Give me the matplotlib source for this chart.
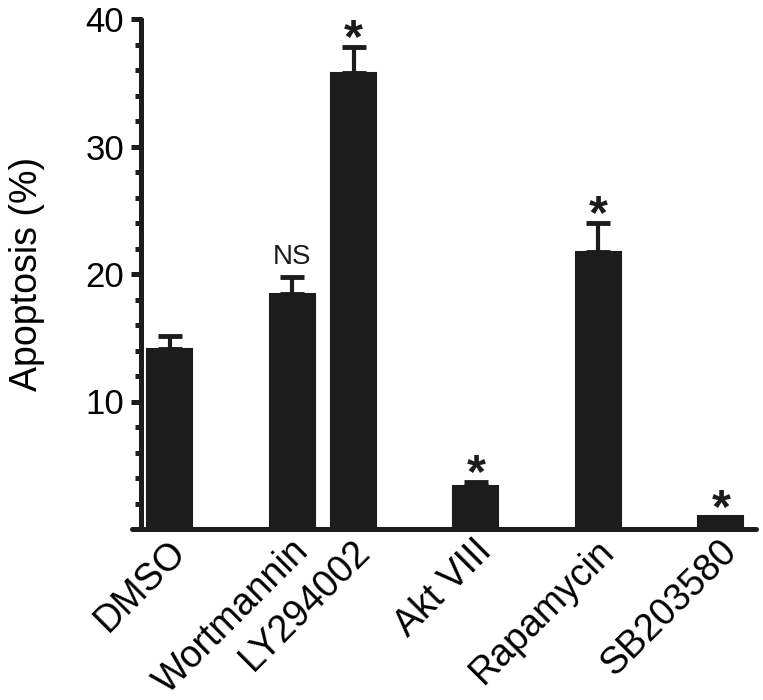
import matplotlib
matplotlib.use("Agg")
import matplotlib.pyplot as plt
import matplotlib.transforms as mtransforms
from matplotlib.ticker import MultipleLocator

categories = ["DMSO", "Wortmannin", "LY294002", "Akt VIII", "Rapamycin", "SB203580"]
positions = [0, 2, 3, 5, 7, 9]
values = [14.1, 18.4, 35.8, 3.4, 21.7, 1.0]
errors = [1.0, 1.4, 2.0, 0.3, 2.3, 0.0]
annotations = ["", "NS", "*", "*", "*", "*"]

plt.rcParams['font.family'] = ['Liberation Sans', 'DejaVu Sans']
dark = '#1c1c1c'

fig = plt.figure(figsize=(7.63, 7.0), dpi=100)
W, H = 763, 700
left_px, right_px, bottom_px, top_px = 132, 756, 529, 19
ax = fig.add_axes([left_px / W, 1 - bottom_px / H, (right_px - left_px) / W, (bottom_px - top_px) / H])

ax.bar(positions, values, width=0.735, color=dark, edgecolor=dark, linewidth=1.5, zorder=2)
for p, v, e in zip(positions, values, errors):
    if e > 0:
        ax.errorbar([p], [v], yerr=[[0], [e]], fmt='none', ecolor=dark,
                    elinewidth=3.0, capsize=8.5, capthick=3.5, zorder=3)

for p, v, e, a in zip(positions, values, errors, annotations):
    if a == "NS":
        ax.text(p, v + e + 0.5, a, ha='center', va='bottom', fontsize=20, color=dark)
    elif a == "*":
        ax.text(p, v + e - 1.2, a, ha='center', va='bottom', fontsize=35, fontweight='bold', color=dark)

ax.set_xlim(-0.62, 9.575)
ax.set_ylim(0, 40)

for s in ['top', 'right']:
    ax.spines[s].set_visible(False)
ax.spines['left'].set_position(('axes', 9 / (right_px - left_px)))
for s in ['left', 'bottom']:
    ax.spines[s].set_linewidth(3.6)
    ax.spines[s].set_color(dark)
    ax.spines[s].set_capstyle('round')

ax.yaxis.set_minor_locator(MultipleLocator(2))
ax.set_yticks([10, 20, 30, 40])
ax.set_yticklabels(["10", "20", "30", "40"])
ax.tick_params(axis='y', which='major', length=7, width=3.6, color=dark, labelsize=25, pad=5)
ax.tick_params(axis='y', which='minor', length=4, width=3.6, color=dark)

ax.set_xticks(positions)
ax.set_xticklabels(categories, rotation=45, ha='right', rotation_mode='anchor', fontsize=27)
ax.tick_params(axis='x', length=0, pad=3)
offset = mtransforms.ScaledTranslation(-2 / 100, 0, fig.dpi_scale_trans)
for lbl in ax.get_xticklabels():
    lbl.set_transform(lbl.get_transform() + offset)

ax.set_ylabel("Apoptosis (%)", fontsize=27)
ax.yaxis.set_label_coords((45 - left_px) / (right_px - left_px), 0.5)

fig.savefig("out.png", dpi=100)
